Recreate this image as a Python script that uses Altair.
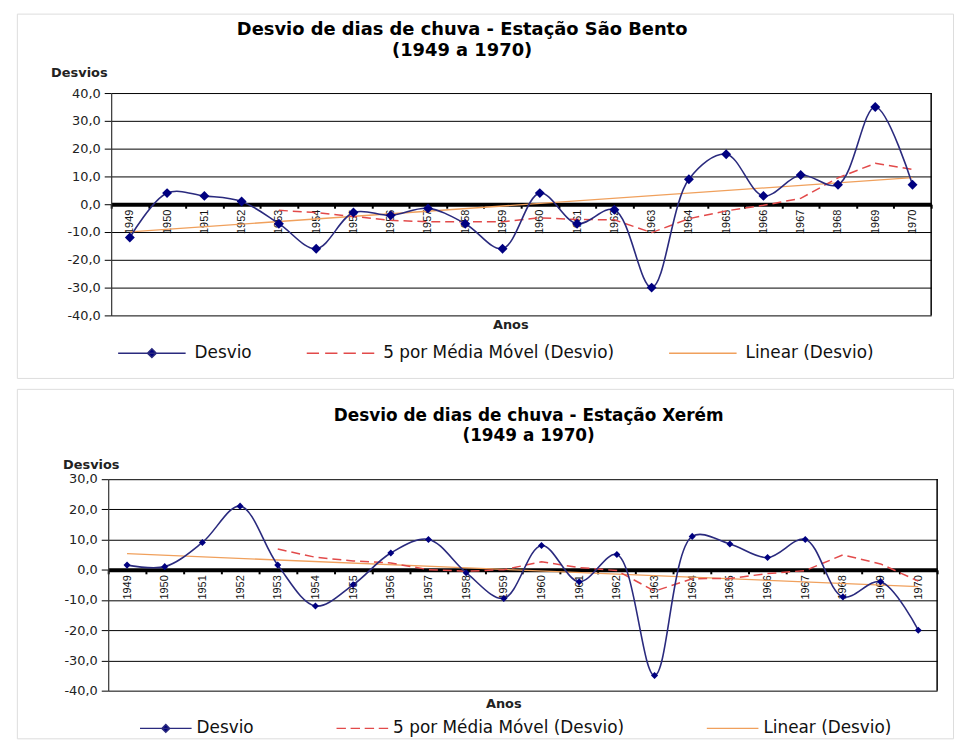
import altair as alt
import pandas as pd

# ---------------- data ----------------
years = list(range(1949, 1971))
sao_bento = [-12, 4, 3, 1, -7, -16, -3, -4, -1.5, -7, -16,
             4, -7, -2, -30, 9, 18, 3, 10.5, 7, 35, 7]
xerem = [1.5, 1, 9, 21, 1.5, -12, -5, 5.5, 10, -1, -9.5,
         8, -4, 5, -35, 11, 8.5, 4, 10, -9, -4, -20]

series_names = ["Desvio", "5 por Média Móvel (Desvio)", "Linear (Desvio)"]
title_sb = "Desvio de dias de chuva - Estação São Bento"
title_xe = "Desvio de dias de chuva - Estação Xerém"
subtitle = "(1949 a 1970)"
yticks_sb = [-40, -30, -20, -10, 0, 10, 20, 30, 40]
yticks_xe = [-40, -30, -20, -10, 0, 10, 20, 30]

NAVY_LINE = "#2a2a7e"
NAVY_MARK = "#000080"
RED = "#e24a4a"
ORANGE = "#f0a05c"

LABEL_EXPR = "replace(replace(format(datum.value, '.1f'), '.', ','), '\u2212', '-')"


def legend_paths(d):
    desvio = f"M-1,0H1M0,-{d}L{d},0L0,{d}L-{d},0Z"
    dashed = ("M-1,0H-0.636M-0.455,0H-0.091M0.091,0H0.455M0.636,0H1")
    linear = "M-1,0H1"
    return [desvio, dashed, linear]


def panel(vals, title, yticks, g):
    df = pd.DataFrame({"year": years, "v": vals})
    base = alt.Chart(df)

    xscale = alt.Scale(type="band", domain=years, range=[g["px0"], g["px1"]],
                       paddingInner=0, paddingOuter=0)
    xaxis = alt.Axis(orient="bottom", offset=g["xoff"], labelAngle=270,
                     labelFont="Liberation Sans", labelFontSize=11,
                     labelColor="#111", labelPadding=1, labelOverlap=False,
                     tickBand="extent", tickSize=4, tickWidth=2, tickColor="#000",
                     domainColor="#000", domainWidth=4, grid=False,
                     title="Anos", titleX=g["axx"], titleY=g["axy"],
                     titleFont="DejaVu Sans", titleFontSize=13,
                     titleFontWeight="bold", titleBaseline="middle",
                     titleAlign="center", titleColor="#222")
    yscale = alt.Scale(domain=[yticks[0], yticks[-1]], range=[g["py0"], g["py1"]],
                       nice=False, zero=False)
    yaxis = alt.Axis(values=yticks, labelExpr=LABEL_EXPR, labelFont="DejaVu Sans",
                     labelFontSize=13, labelColor="#222", labelPadding=4,
                     tickSize=7, tickColor="#000", domainColor="#333",
                     domainWidth=1.2, grid=True, gridColor="#000", gridWidth=1,
                     offset=-g["px0"], title="Desvios", titleAngle=0,
                     titleAlign="left", titleBaseline="middle",
                     titleX=g["ayx"], titleY=g["ayy"], titleFont="DejaVu Sans",
                     titleFontSize=13, titleFontWeight="bold", titleColor="#222")

    def X():
        return alt.X("year:O", scale=xscale, axis=xaxis, title="Anos")

    def Y(field):
        return alt.Y(f"{field}:Q", scale=yscale, axis=yaxis, title="Desvios")

    trend = base.transform_regression("year", "v", method="linear").mark_line(
        color=ORANGE, strokeWidth=1.3).encode(x=X(), y=Y("v"))

    ma = base.transform_window(
        ma="mean(v)", n="count()", frame=[-4, 0], sort=[alt.SortField("year")]
    ).transform_filter("datum.n == 5").mark_line(
        color=RED, strokeDash=[9, 5], strokeWidth=1.5).encode(x=X(), y=Y("ma"))

    line = base.mark_line(interpolate="catmull-rom", color=NAVY_LINE,
                          strokeWidth=1.6).encode(x=X(), y=Y("v"))
    pts = base.mark_point(shape="diamond", filled=True, size=g["msize"],
                          color=NAVY_MARK, opacity=1).encode(x=X(), y=Y("v"))

    leg = alt.Legend(orient="none", legendX=g["lx"], legendY=g["ly"],
                     direction="horizontal", title=None, labelFont="DejaVu Sans",
                     labelFontSize=17, labelColor="#111", labelOffset=g["loff"],
                     columnPadding=g["cpad"], symbolSize=g["ssize"],
                     symbolStrokeWidth=1.5, padding=0, labelLimit=0)
    carrier = base.transform_filter("false").mark_point(
        filled=True, opacity=1, size=g["ssize"]).encode(
        x=X(), y=Y("v"),
        shape=alt.Shape("s:N", scale=alt.Scale(domain=series_names,
                                               range=legend_paths(g["dia"])),
                        legend=leg),
        stroke=alt.Stroke("s:N", scale=alt.Scale(domain=series_names,
                                                 range=[NAVY_LINE, RED, ORANGE]),
                          legend=leg),
        fill=alt.Fill("s:N", scale=alt.Scale(domain=series_names,
                                             range=[NAVY_MARK, "transparent",
                                                    "transparent"]),
                      legend=leg),
    )

    border = alt.Chart(pd.DataFrame({"k": [0]})).mark_rule(
        color="#000", strokeWidth=1.5).encode(
        x=alt.value(g["px1"]), y=alt.value(g["py1"]), y2=alt.value(g["py0"]))

    return alt.layer(trend, ma, line, pts, carrier, border).properties(
        width=943, height=g["h"],
        title=alt.TitleParams(text=title, subtitle=subtitle, anchor="middle",
                              frame="group", dx=g["tdx"], offset=g["toff"],
                              font="DejaVu Sans", fontSize=g["tfs"],
                              fontWeight="bold", color="#000",
                              subtitleFont="DejaVu Sans",
                              subtitleFontSize=g["tfs"],
                              subtitleFontWeight="bold", subtitleColor="#000",
                              subtitlePadding=3.5))


g_top = dict(h=367, px0=95, px1=921, py0=304, py1=80, xoff=192 - 367,
             axx=497, axy=121, ayx=-61, ayy=59, msize=100,
             lx=101, ly=307, loff=8, cpad=52, ssize=4624, dia=0.13,
             tdx=-23, toff=-47, tfs=18)
g_bot = dict(h=352, px0=92, px1=927, py0=304, py1=90.7, xoff=182.3 - 352,
             axx=490, axy=134.7, ayx=-46, ayy=76, msize=50,
             lx=123, ly=315, loff=4, cpad=80, ssize=2704, dia=0.15,
             tdx=44, toff=-57, tfs=17)

top = panel(sao_bento, title_sb, yticks_sb, g_top)
bot = panel(xerem, title_xe, yticks_xe, g_bot)

chart = alt.vconcat(top, bot, spacing=9).resolve_scale(
    x="independent", y="independent", stroke="independent",
    fill="independent", shape="independent"
).resolve_legend(
    stroke="independent", fill="independent", shape="independent"
).resolve_axis(x="independent", y="independent").properties(
    padding={"left": 10, "top": 10, "right": 0, "bottom": 0}
).configure_view(stroke="#000", strokeWidth=1.2).configure(font="DejaVu Sans")

chart.save("out.html", embed_options={"renderer": "svg", "actions": False})
